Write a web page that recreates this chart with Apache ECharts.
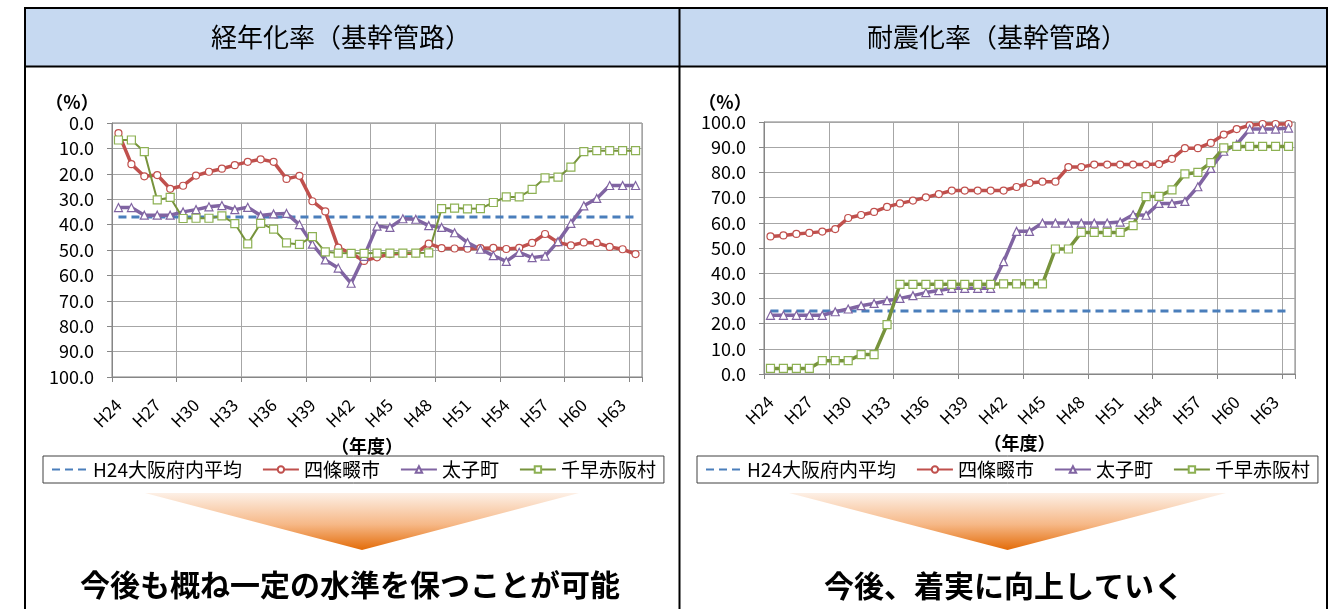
<!DOCTYPE html>
<html>
<head>
<meta charset="utf-8">
<script src="https://cdn.jsdelivr.net/npm/echarts@6/dist/echarts.min.js"></script>
<style>
html, body { margin: 0; padding: 0; background: #fff; }
#main { width: 1335px; height: 609px; }
</style>
</head>
<body>
<div id="main"></div>
<script>
var years = ['H24', 'H25', 'H26', 'H27', 'H28', 'H29', 'H30', 'H31', 'H32', 'H33',
  'H34', 'H35', 'H36', 'H37', 'H38', 'H39', 'H40', 'H41', 'H42', 'H43',
  'H44', 'H45', 'H46', 'H47', 'H48', 'H49', 'H50', 'H51', 'H52', 'H53',
  'H54', 'H55', 'H56', 'H57', 'H58', 'H59', 'H60', 'H61', 'H62', 'H63', 'H64'];
var yTicks = [0, 10, 20, 30, 40, 50, 60, 70, 80, 90, 100];
var seriesNames = ['H24大阪府内平均', '四條畷市', '太子町', '千早赤阪村'];

// 経年化率
var agingAvg = 37.0;
var agingShijo = [4.0, 16.2, 21.0, 20.5, 25.9, 24.7, 20.7, 19.2, 18.0, 16.6,
  15.3, 14.3, 15.3, 22.0, 20.8, 30.8, 34.8, 49.1, 51.3, 54.3,
  52.9, 51.6, 51.3, 51.3, 47.5, 49.3, 49.4, 49.5, 49.3, 49.2,
  49.6, 49.2, 47.2, 43.7, 47.0, 48.2, 47.0, 47.2, 48.8, 49.7, 51.6];
var agingTaishi = [33.3, 33.3, 36.3, 36.3, 36.3, 35.0, 34.1, 33.0, 32.5, 34.1,
  33.2, 36.4, 35.8, 35.6, 40.0, 47.7, 53.9, 57.1, 63.1, 52.5,
  40.6, 41.1, 37.7, 37.9, 40.4, 41.1, 43.2, 47.1, 49.7, 52.2,
  54.5, 50.9, 53.0, 52.4, 46.7, 39.5, 32.6, 29.7, 24.6, 24.6, 24.6];
var agingChihaya = [6.7, 6.7, 11.3, 30.3, 29.3, 37.6, 37.5, 37.5, 36.6, 39.6,
  47.6, 39.5, 41.8, 47.2, 47.8, 44.7, 50.7, 51.2, 51.3, 51.3,
  51.2, 51.2, 51.2, 51.2, 51.1, 33.7, 33.5, 33.8, 33.7, 31.3,
  29.1, 29.1, 26.1, 21.6, 21.3, 17.4, 11.3, 10.9, 10.9, 10.9, 10.9];

// 耐震化率
var quakeAvg = 25.0;
var quakeShijo = [54.6, 55.0, 55.6, 56.0, 56.5, 57.5, 61.9, 63.1, 64.3, 66.3,
  67.7, 68.8, 70.1, 71.4, 72.8, 72.8, 72.8, 72.8, 72.8, 74.2,
  75.8, 76.3, 76.3, 82.1, 82.1, 83.1, 83.1, 83.1, 83.1, 83.1,
  83.3, 85.4, 89.6, 89.6, 91.7, 95.0, 97.2, 98.7, 99.2, 99.2, 99.2];
var quakeTaishi = [23.3, 23.3, 23.3, 23.3, 23.3, 24.7, 25.8, 27.1, 28.0, 29.1,
  30.0, 31.1, 32.3, 33.1, 34.0, 34.0, 34.0, 34.0, 44.6, 56.6,
  56.6, 59.9, 59.9, 59.9, 59.9, 59.9, 59.9, 60.3, 63.2, 63.0,
  67.7, 67.7, 68.5, 74.3, 81.6, 88.4, 91.1, 97.2, 97.2, 97.2, 97.6];
var quakeChihaya = [2.2, 2.2, 2.2, 2.2, 5.3, 5.3, 5.3, 7.7, 7.7, 19.6,
  35.6, 35.6, 35.6, 35.6, 35.6, 35.6, 35.6, 35.6, 35.8, 35.8,
  35.8, 35.8, 49.6, 49.6, 56.2, 56.2, 56.2, 56.2, 58.9, 70.4,
  70.5, 73.1, 79.4, 80.0, 83.9, 89.7, 90.3, 90.3, 90.3, 90.3, 90.3];

var FONT = "'Noto Sans CJK JP', 'Noto Sans', sans-serif";
var chartDom = document.getElementById('main');
var myChart = echarts.init(chartDom);

function makeXAxis(gridIndex) {
  return {
    type: 'category',
    gridIndex: gridIndex,
    data: years,
    boundaryGap: true,
    name: '（年度）',
    nameLocation: 'middle',
    nameGap: 60,
    nameTextStyle: { color: '#000', fontSize: 18, fontWeight: 'bold', padding: [0, 20, 0, 0] },
    axisLine: { onZero: false, lineStyle: { color: '#868686', width: 1 } },
    axisTick: { show: true, interval: 4, length: 5, lineStyle: { color: '#868686' } },
    axisLabel: { interval: 2, rotate: 45, margin: 25, fontSize: 17, color: '#000' },
    splitLine: { show: true, interval: 4, lineStyle: { color: '#a6a6a6', width: 1 } }
  };
}

function makeYAxis(gridIndex, inverse) {
  return {
    type: 'value',
    gridIndex: gridIndex,
    inverse: inverse,
    min: yTicks[0],
    max: yTicks[yTicks.length - 1],
    interval: yTicks[1] - yTicks[0],
    axisLine: { show: true, lineStyle: { color: '#868686' } },
    axisTick: { show: true, length: 5, lineStyle: { color: '#868686' } },
    axisLabel: {
      fontSize: 18, color: '#000', margin: 18,
      formatter: function (v) { return v.toFixed(1); }
    },
    splitLine: { show: true, lineStyle: { color: '#a6a6a6', width: 1 } }
  };
}

function makeSeries(idx, avg, shijo, taishi, chihaya, greenWidth) {
  return [
    {
      name: seriesNames[0], type: 'line', xAxisIndex: idx, yAxisIndex: idx,
      data: [[years[0], avg], [years[years.length - 1], avg]],
      symbol: 'none',
      lineStyle: { color: '#4a7ebb', width: 3, type: [8, 5] },
      itemStyle: { color: '#4a7ebb' }
    },
    {
      name: seriesNames[1], type: 'line', xAxisIndex: idx, yAxisIndex: idx,
      data: shijo,
      symbol: 'circle', symbolSize: 7,
      lineStyle: { color: '#c0504d', width: 3.5 },
      itemStyle: { color: '#fff', borderColor: '#c0504d', borderWidth: 1.2 }
    },
    {
      name: seriesNames[2], type: 'line', xAxisIndex: idx, yAxisIndex: idx,
      data: taishi,
      symbol: 'triangle', symbolSize: 8,
      lineStyle: { color: '#8064a2', width: 3.5 },
      itemStyle: { color: '#fff', borderColor: '#8064a2', borderWidth: 1.2 }
    },
    {
      name: seriesNames[3], type: 'line', xAxisIndex: idx, yAxisIndex: idx,
      data: chihaya,
      symbol: 'rect', symbolSize: 8,
      lineStyle: { color: '#77933c', width: greenWidth },
      itemStyle: { color: '#fff', borderColor: '#8db153', borderWidth: 1.2 }
    }
  ];
}

function makeLegend(left) {
  return {
    left: left, top: 456,
    data: [
      { name: seriesNames[0], itemStyle: { opacity: 0 } },
      seriesNames[1], seriesNames[2], seriesNames[3]
    ],
    itemWidth: 36, itemHeight: 8, itemGap: 20,
    padding: [4, 8],
    borderColor: '#404040', borderWidth: 1,
    textStyle: { fontSize: 19, color: '#000' }
  };
}

function triangle(x1, x2, y1, y2) {
  return {
    type: 'polygon',
    shape: { points: [[x1, y1], [x2, y1], [(x1 + x2) / 2, y2]] },
    style: {
      fill: new echarts.graphic.LinearGradient(0, 0, 0, 1, [
        { offset: 0, color: '#fdf0e6' },
        { offset: 0.55, color: '#f6b887' },
        { offset: 1, color: '#e36c09' }
      ])
    }
  };
}

function hline(x1, x2, y) {
  return { type: 'line', shape: { x1: x1, y1: y, x2: x2, y2: y }, style: { stroke: '#000', lineWidth: 2 } };
}
function vline(x, y1, y2) {
  return { type: 'line', shape: { x1: x, y1: y1, x2: x, y2: y2 }, style: { stroke: '#000', lineWidth: 2 } };
}
function label(x, y, text, size, weight) {
  return {
    type: 'text', x: x, y: y,
    style: { text: text, fontSize: size, fontWeight: weight, fill: '#000', fontFamily: FONT, align: 'center', verticalAlign: 'middle' }
  };
}

var option = {
  animation: false,
  textStyle: { fontFamily: FONT },
  grid: [
    { left: 112, top: 123, width: 530, height: 254, show: true, borderColor: '#7f7f7f', borderWidth: 1, containLabel: false },
    { left: 764, top: 122, width: 531, height: 252, show: true, borderColor: '#7f7f7f', borderWidth: 1, containLabel: false }
  ],
  xAxis: [makeXAxis(0), makeXAxis(1)],
  yAxis: [makeYAxis(0, true), makeYAxis(1, false)],
  legend: [makeLegend(43), makeLegend(697)],
  graphic: [
    { type: 'rect', shape: { x: 25, y: 8, width: 1302, height: 58 }, style: { fill: '#c6d9f1' }, z: -1 },
    hline(24, 1328, 8),
    hline(24, 1328, 66.5),
    vline(25, 7, 609),
    vline(679.5, 7, 609),
    vline(1327, 7, 609),
    label(341, 37, '経年化率（基幹管路）', 26, 'normal'),
    label(997, 37, '耐震化率（基幹管路）', 26, 'normal'),
    label(72, 102, '（%）', 18, 'bold'),
    label(725, 102, '（%）', 18, 'bold'),
    triangle(145, 579, 493, 550),
    triangle(789, 1226, 493, 550),
    label(350, 585, '今後も概ね一定の水準を保つことが可能', 30, 'bold'),
    label(1004, 586, '今後、着実に向上していく', 30, 'bold')
  ],
  series: makeSeries(0, agingAvg, agingShijo, agingTaishi, agingChihaya, 2)
    .concat(makeSeries(1, quakeAvg, quakeShijo, quakeTaishi, quakeChihaya, 3.5))
};

option && myChart.setOption(option);
</script>
</body>
</html>
